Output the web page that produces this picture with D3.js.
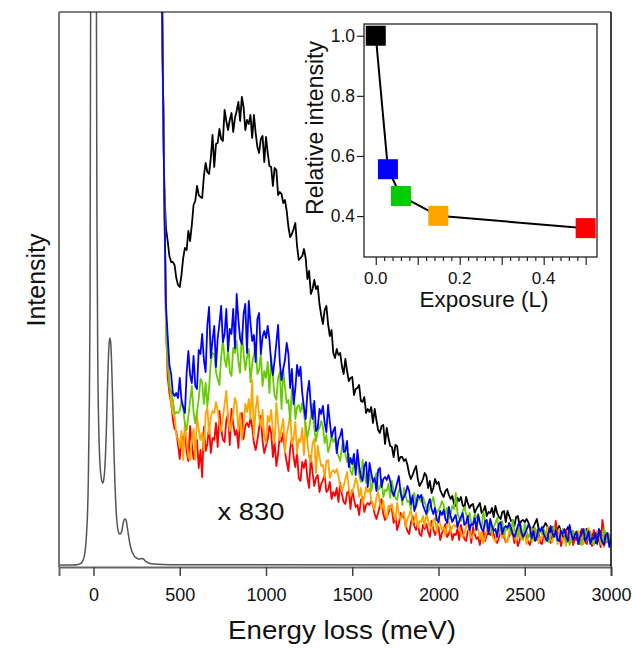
<!DOCTYPE html>
<html>
<head>
<meta charset="utf-8">
<script src="https://cdn.jsdelivr.net/npm/d3@7"></script>
<style>
  html, body { margin: 0; padding: 0; background: #fff; }
  svg { display: block; font-family: "Liberation Sans", Arial, sans-serif; }
</style>
</head>
<body>
<svg id="chart" width="633" height="648"></svg>
<script>
// ---------------- DATA ----------------
// Elastic / vibrational spectrum (grey), energy loss (meV) and intensity
const elasticE = [-200,-120,-90,-80,-70,-60,-50,-45,-40,-35,-30,-25,-20,-15,-10,-5,0,5,10,15,20,25,30,35,40,45,50,55,60,65,70,75,80,85,90,95,100,105,110,115,120,125,130,135,140,145,150,155,160,165,170,175,180,185,190,195,200,210,220,230,240,250,260,270,280,290,300,310,320,330,350,400,500,3000];
const elasticI = [0,0,0.5,1,2,5,12,20,32,50,85,150,260,700,1500,3000,4000,3000,1500,700,350,200,140,110,95,87,83,82,86,95,112,138,170,200,220,227,222,202,172,138,105,78,58,45,37,33,31,31,32,35,40,44,46,46,44,39,33,22,15,11,8,7,6,6,6.5,6,4,3,2,1.5,1,0.5,0.3,0];

// Magnified (x 830) spectra: energy grid starts at 380 meV, step 10 meV
const spectraStart = 380;
const spectraStep = 10;
const seriesBlack = [
 900,700,
 520,380,337,324,309,303,303,300,287,280,
 278,290,307,317,315,334,324,340,360,364,
 379,370,368,367,389,402,393,391,407,430,
 398,421,422,436,426,424,455,444,435,445,
 452,433,447,454,463,444,468,458,435,445,
 441,450,427,450,432,418,412,426,429,403,
 428,412,399,398,379,397,395,370,373,371,
 362,365,354,338,328,331,336,342,319,305,
 307,309,316,307,286,294,271,276,285,276,
 279,261,250,241,255,259,241,229,235,212,
 207,216,210,212,199,191,206,194,184,187,
 188,170,176,177,180,164,163,168,152,156,
 153,158,142,156,145,135,132,139,140,121,
 137,127,119,118,108,120,119,104,108,108,
 104,106,100,91,86,90,95,99,86,79,
 82,86,92,89,77,84,72,77,86,81,
 83,75,71,68,74,76,70,66,69,61,
 59,67,64,68,60,57,68,62,57,60,
 61,52,56,59,62,52,54,59,49,53,
 52,57,48,59,52,48,46,53,54,43,
 54,49,44,45,39,48,49,40,44,45,
 43,46,43,38,35,38,42,46,37,33,
 36,38,42,39,32,36,28,32,38,36,
 39,32,29,27,34,38,33,29,34,27,
 26,33,31,35,28,24,36,31,26,30,
 32,22,27,30,34,25,27,32,23,27,
 28];
const seriesRed = [
 900,700,
 520,380,240,188,172,162,146,136,134,120,
 106,129,123,133,113,104,139,121,106,117,
 125,97,115,88,138,114,121,139,112,127,
 125,142,118,154,137,125,123,145,151,120,
 156,141,130,135,117,148,152,126,139,142,
 138,147,138,122,115,125,137,149,124,112,
 119,126,139,132,108,123,99,111,130,123,
 132,113,103,94,116,127,108,98,112,87,
 84,103,97,105,87,77,109,92,79,87,
 90,73,81,85,90,73,75,83,66,73,
 69,77,63,82,71,63,61,72,74,56,
 75,66,58,60,50,65,68,53,60,62,
 60,64,60,51,46,52,59,66,51,45,
 48,52,59,55,42,50,35,41,52,48,
 49,39,34,31,42,49,39,35,42,31,
 29,40,36,41,33,28,44,36,30,35,
 38,25,32,36,41,28,31,38,25,31,
 30,36,25,40,32,26,24,34,36,22,
 38,31,26,28,20,33,35,24,30,32,
 30,35,31,25,22,27,33,38,28,23,
 25,29,35,32,22,29,19,24,33,30,
 34,27,23,20,31,36,29,25,32,22,
 21,32,29,34,26,22,38,30,44,29,
 31,19,26,30,35,23,26,33,20,26,
 25,32,21,36,28,23,21,31,33,19,
 35,28,23,26,18,45,33,22,28,30,
 26];
const seriesOrange = [
 900,700,
 520,380,240,202,187,162,151,150,129,127,
 117,134,105,143,124,108,105,127,136,105,
 150,136,125,132,115,151,158,131,148,154,
 152,163,155,140,134,147,161,174,147,134,
 143,152,167,160,134,152,125,139,161,153,
 166,146,185,129,155,169,148,138,155,128,
 122,149,143,155,133,122,162,142,125,137,
 146,112,131,139,151,121,126,143,111,126,
 123,137,110,143,123,108,103,122,126,92,
 119,108,99,100,87,104,105,87,93,95,
 92,96,89,79,74,79,86,93,77,69,
 74,78,87,82,68,77,61,67,78,73,
 76,65,60,55,68,73,62,56,64,51,
 47,59,56,61,51,45,62,52,45,50,
 53,38,46,50,55,42,44,52,37,44,
 43,49,38,52,44,38,36,45,47,32,
 48,41,35,38,29,42,44,32,38,40,
 38,42,38,31,28,32,38,43,32,27,
 30,34,39,36,26,33,22,27,36,33,
 37,30,26,23,33,38,31,27,34,24,
 23,34,31,36,28,24,40,32,26,31,
 33,21,28,32,37,25,28,35,22,28,
 27,34,23,38,30,25,23,33,35,21,
 36,29,24,27,19,32,34,23,29,31,
 29,34,30,24,21,26,32,37,27,22,
 24,28,34,31,21,28,18,23,32,29,
 26];
const seriesGreen = [
 900,700,
 520,378,250,204,177,174,165,151,153,152,
 154,164,156,141,135,149,164,179,153,142,
 153,166,186,183,161,182,159,177,203,212,
 211,193,186,180,208,225,206,198,217,193,
 189,217,212,224,203,192,232,212,195,208,
 216,183,202,210,222,191,195,212,179,194,
 187,203,172,209,188,169,165,187,193,156,
 195,177,162,165,144,176,178,146,158,160,
 153,162,152,136,128,137,149,161,136,124,
 134,137,144,138,122,130,113,119,129,123,
 127,115,109,104,118,124,111,103,111,94,
 90,103,99,104,91,83,105,93,82,88,
 91,74,83,87,92,75,77,85,68,75,
 74,81,67,84,75,67,65,74,77,60,
 77,69,63,64,56,70,72,58,65,66,
 63,68,63,57,53,58,63,68,57,52,
 55,58,64,60,50,57,46,51,59,56,
 72,52,47,44,54,58,51,46,52,42,
 41,51,47,51,42,38,53,44,37,41,
 44,32,38,42,47,34,37,44,30,36,
 35,42,30,45,36,31,28,38,39,25,
 41,34,28,31,23,35,37,26,32,34,
 31,36,32,26,23,28,34,39,29,24,
 26,30,36,33,23,30,20,25,34,31,
 34,27,23,20,31,36,29,25,32,22,
 20,31,28,33,25,21,37,29,23,28,
 27];
const seriesBlue = [
 900,700,
 520,375,260,229,200,191,172,169,172,167,
 187,165,158,152,192,214,190,182,209,179,
 176,215,211,231,205,193,240,258,207,225,
 239,198,227,241,259,223,231,256,214,236,
 231,256,217,271,245,226,221,251,261,212,
 264,242,224,230,203,246,252,211,228,234,
 227,239,225,202,190,205,222,240,203,185,
 196,205,222,211,177,196,161,176,200,189,
 198,172,158,146,172,184,159,146,164,134,
 137,156,151,159,142,133,160,143,128,134,
 138,112,125,129,136,113,114,124,98,107,
 101,111,90,115,99,88,84,99,103,78,
 102,92,83,87,74,95,97,78,86,88,
 85,90,84,74,69,75,82,89,73,65,
 68,72,79,74,61,69,54,60,70,67,
 70,60,55,51,61,66,56,51,57,45,
 43,54,50,55,46,42,58,49,43,47,
 50,38,44,48,52,40,42,49,35,41,
 40,47,35,50,42,36,34,44,45,31,
 46,39,34,36,28,41,43,31,37,39,
 37,42,37,31,28,33,39,43,33,28,
 31,35,40,37,27,34,24,28,37,34,
 38,31,27,24,34,39,32,28,35,25,
 24,34,31,36,28,24,40,31,25,30,
 33,21,28,32,36,24,27,34,21,27,
 26,32,21,36,28,23,20,30,32,18,
 26];

// Inset: relative intensity vs exposure
const exposure = [0.0, 0.029, 0.06, 0.149, 0.5];
const relIntensity = [1.0, 0.556, 0.467, 0.401, 0.36];
const insetColors = ["#000000", "#0000ff", "#00cc00", "#ffa500", "#ff0000"];

const xTicksMain = [0, 500, 1000, 1500, 2000, 2500, 3000];
const insetYTicks = [0.4, 0.6, 0.8, 1.0];
const insetXLabels = [0.0, 0.2, 0.4];

// ---------------- DRAW ----------------
const svg = d3.select("#chart");
const L = 59, R = 611, T = 12, B = 567;

const x = d3.scaleLinear().domain([-200, 3000]).range([L, R]);
const y = d3.scaleLinear().domain([-2, 553]).range([B, T]);

svg.append("defs").append("clipPath").attr("id", "plotclip")
  .append("rect").attr("x", L).attr("y", T).attr("width", R - L).attr("height", B - T);

const plot = svg.append("g").attr("clip-path", "url(#plotclip)");

// grey elastic spectrum
const elastic = elasticE.map((e, i) => [e, elasticI[i]]);
plot.append("path")
  .datum(elastic)
  .attr("fill", "none")
  .attr("stroke", "#555")
  .attr("stroke-width", 1.5)
  .attr("stroke-linejoin", "round")
  .attr("d", d3.line().curve(d3.curveMonotoneX).x(d => x(d[0])).y(d => y(d[1])));

const specLine = d3.line().x(d => x(d[0])).y(d => y(d[1]));
const spectra = [
  {vals: seriesBlack, color: "#000000"},
  {vals: seriesRed, color: "#ff0000"},
  {vals: seriesOrange, color: "#ffa500"},
  {vals: seriesGreen, color: "#66cc00"},
  {vals: seriesBlue, color: "#0000ff"}
];
spectra.forEach(s => {
  const pts = s.vals.map((v, i) => [spectraStart + i * spectraStep, v]);
  plot.append("path")
    .datum(pts)
    .attr("fill", "none")
    .attr("stroke", s.color)
    .attr("stroke-width", 1.8)
    .attr("stroke-linejoin", "round")
    .attr("d", specLine);
});

// frame
svg.append("line").attr("x1", L).attr("x2", R).attr("y1", T).attr("y2", T)
  .attr("stroke", "#000").attr("stroke-width", 1.2);
svg.append("line").attr("x1", R).attr("x2", R).attr("y1", T).attr("y2", B)
  .attr("stroke", "#000").attr("stroke-width", 1.5);
svg.append("line").attr("x1", L).attr("x2", L).attr("y1", T).attr("y2", B)
  .attr("stroke", "#666").attr("stroke-width", 1.8);

// x axis
const xAxis = d3.axisBottom(x).tickValues(xTicksMain).tickSize(9).tickPadding(12)
  .tickFormat(d3.format("d"));
const gx = svg.append("g").attr("transform", `translate(0,${B})`).call(xAxis);
gx.select(".domain").attr("stroke", "#666").attr("stroke-width", 2);
gx.selectAll(".tick line").attr("stroke", "#444").attr("stroke-width", 1.5);
gx.selectAll(".tick text").attr("font-size", 18).attr("fill", "#111")
  .attr("font-family", "Liberation Sans, Arial, sans-serif");

// axis titles
svg.append("text").attr("x", 342).attr("y", 639).attr("text-anchor", "middle")
  .attr("font-size", 26).attr("fill", "#111")
  .attr("textLength", 228).attr("lengthAdjust", "spacingAndGlyphs")
  .text("Energy loss (meV)");
svg.append("text").attr("transform", "translate(45,280) rotate(-90)")
  .attr("text-anchor", "middle").attr("font-size", 25).attr("fill", "#111")
  .text("Intensity");
svg.append("text").attr("x", 251).attr("y", 520).attr("text-anchor", "middle")
  .attr("font-size", 23.5).attr("fill", "#111")
  .attr("textLength", 67).attr("lengthAdjust", "spacingAndGlyphs")
  .text("x 830");

// ---------------- INSET ----------------
const iL = 364, iR = 597, iT = 24, iB = 257;
const ix = d3.scaleLinear().domain([-0.028, 0.527]).range([iL, iR]);
const iy = d3.scaleLinear().domain([0.264, 1.039]).range([iB, iT]);
const inset = svg.append("g");
inset.append("rect").attr("x", iL).attr("y", iT).attr("width", iR - iL).attr("height", iB - iT)
  .attr("fill", "#fff").attr("stroke", "#222").attr("stroke-width", 1.3);

// inset x axis: minor ticks every 0.02, major every 0.1
const minorTicks = d3.range(0, 26).map(i => i * 0.02);
const gix = inset.append("g").attr("transform", `translate(0,${iB})`)
  .call(d3.axisBottom(ix).tickValues(minorTicks).tickSizeOuter(0)
    .tickSize(4).tickFormat(""));
gix.select(".domain").remove();
gix.selectAll(".tick line").attr("stroke", "#222").attr("stroke-width", 1.2)
  .attr("y2", (d, i) => (i % 5 === 0 ? 8 : 4));
insetXLabels.forEach(v => {
  inset.append("text").attr("x", ix(v)).attr("y", 284).attr("text-anchor", "middle")
    .attr("font-size", 17).attr("fill", "#111").text(d3.format(".1f")(v));
});

// inset y axis
const giy = inset.append("g").attr("transform", `translate(${iL},0)`)
  .call(d3.axisLeft(iy).tickValues(insetYTicks).tickSize(7).tickPadding(2)
    .tickSizeOuter(0).tickFormat(d3.format(".1f")));
giy.select(".domain").remove();
giy.selectAll(".tick line").attr("stroke", "#222").attr("stroke-width", 1.2);
giy.selectAll(".tick text").attr("font-size", 17.5).attr("fill", "#111")
  .attr("font-family", "Liberation Sans, Arial, sans-serif");

// inset titles
inset.append("text").attr("x", 484).attr("y", 307).attr("text-anchor", "middle")
  .attr("font-size", 22.5).attr("fill", "#111").text("Exposure (L)");
inset.append("text").attr("transform", "translate(323,128) rotate(-90)")
  .attr("text-anchor", "middle").attr("font-size", 23).attr("fill", "#111")
  .text("Relative intensity");

// inset line + markers
const insetPts = exposure.map((e, i) => [e, relIntensity[i]]);
inset.append("path").datum(insetPts)
  .attr("fill", "none").attr("stroke", "#000").attr("stroke-width", 2)
  .attr("d", d3.line().x(d => ix(d[0])).y(d => iy(d[1])));
const sq = 20;
inset.selectAll("rect.mk").data(insetPts).enter().append("rect")
  .attr("class", "mk")
  .attr("x", d => ix(d[0]) - sq / 2).attr("y", d => iy(d[1]) - sq / 2)
  .attr("width", sq).attr("height", sq)
  .attr("fill", (d, i) => insetColors[i]);
</script>
</body>
</html>
